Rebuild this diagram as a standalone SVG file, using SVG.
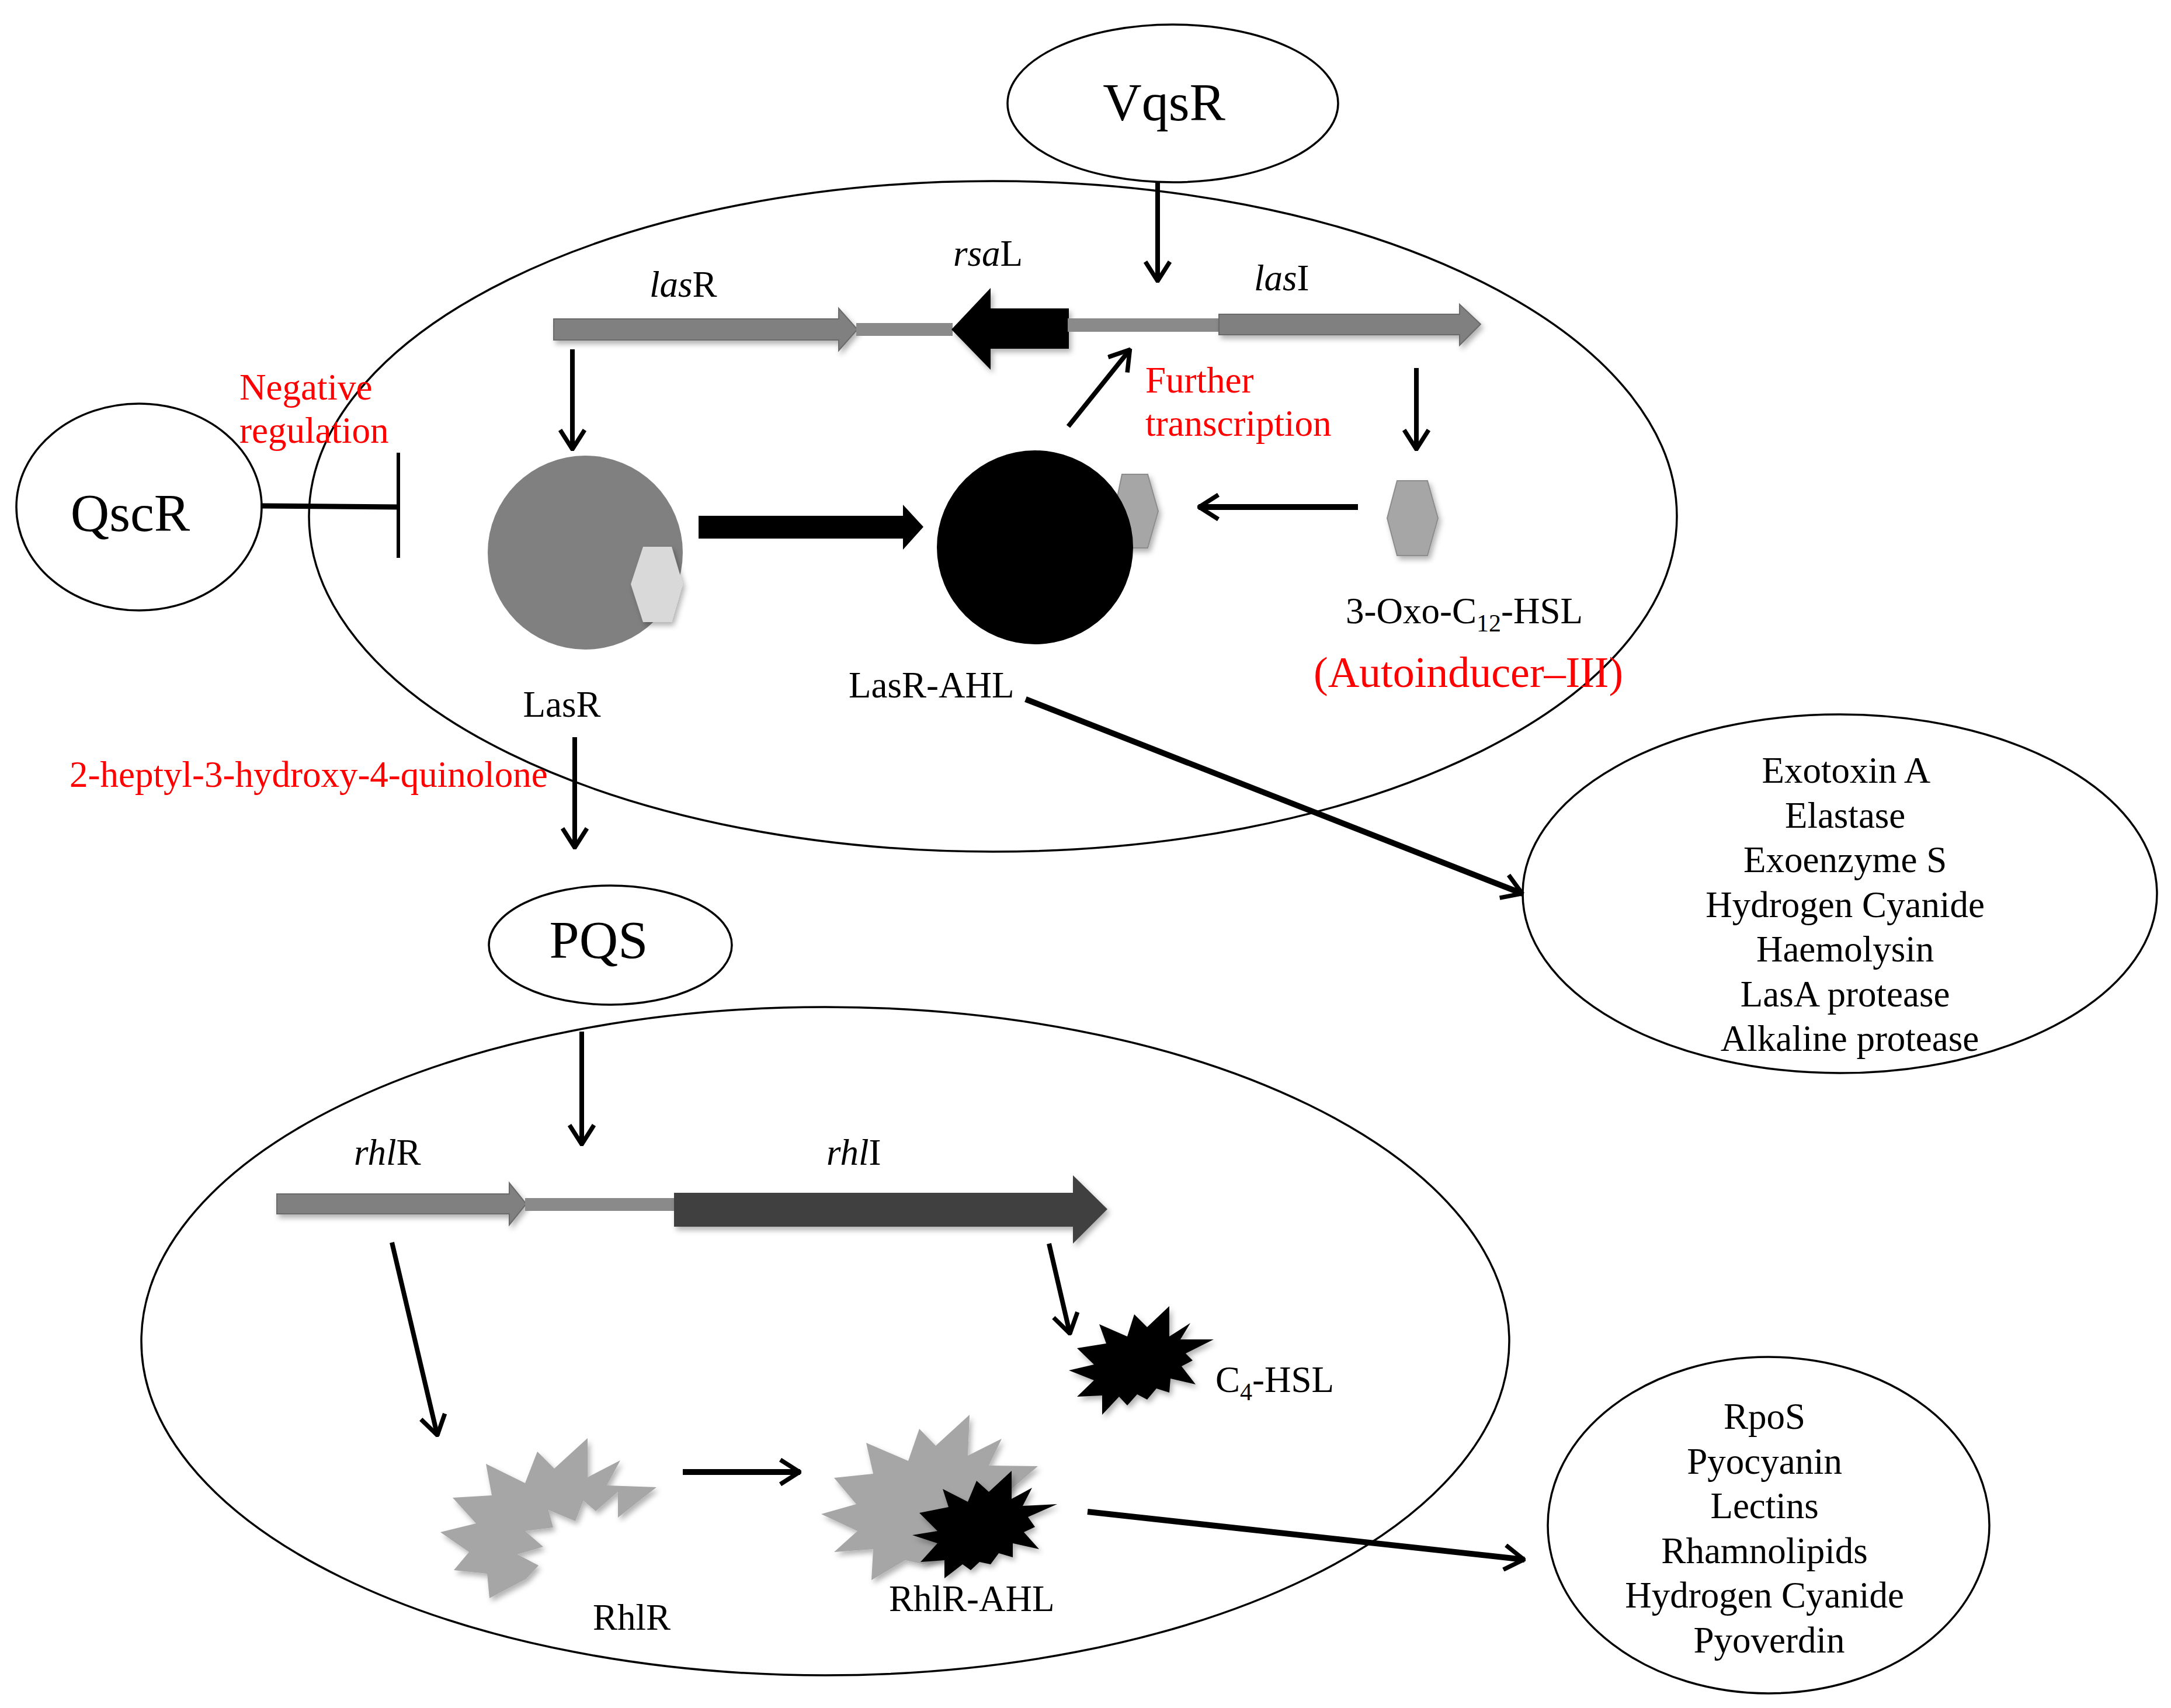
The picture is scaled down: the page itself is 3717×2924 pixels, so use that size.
<svg xmlns="http://www.w3.org/2000/svg" width="3717" height="2924" viewBox="0 0 3717 2924">
<style>
text{font-family:"Liberation Serif","Times New Roman",serif;fill:#000}
.t{font-size:63px}
.big{font-size:92px}
.red{fill:#ff0000}
.i{font-style:italic}
.oval{fill:none;stroke:#000;stroke-width:3.5}
.node{fill:#fff;stroke:#000;stroke-width:3.5}
.ln{stroke:#000;fill:none;stroke-width:8}
.thk{stroke:#000;fill:none;stroke-width:10}
.gene{fill:#808080;stroke:#6a6a6a;stroke-width:2}
.link{fill:#8a8a8a}
.hex{fill:#a6a6a6;stroke:#8c8c8c;stroke-width:2}
</style>
<defs>
<marker id="ah" viewBox="0 0 40 48" refX="38" refY="24" markerUnits="userSpaceOnUse" markerWidth="40" markerHeight="48" orient="auto">
<path d="M4,3 L37,24 L4,45" fill="none" stroke="#000" stroke-width="7.5"/>
</marker>
<filter id="sh" x="-20%" y="-20%" width="150%" height="150%">
<feDropShadow dx="4" dy="6" stdDeviation="5" flood-color="#000" flood-opacity="0.3"/>
</filter>
</defs>
<rect width="3717" height="2924" fill="#fff"/>

<g id="las-system">
<ellipse class="oval" cx="1700" cy="884" rx="1171" ry="574"/>
</g>
<g id="rhl-system">
<ellipse class="oval" cx="1413" cy="2296" rx="1171" ry="572"/>
</g>

<g id="VqsR">
<ellipse class="node" cx="2008" cy="177" rx="283" ry="135"/>
<text class="big" x="1993" y="206" text-anchor="middle">VqsR</text>
</g>

<g id="QscR">
<ellipse class="node" cx="238" cy="868" rx="210" ry="177"/>
<text class="big" x="223" y="909" text-anchor="middle">QscR</text>
</g>

<g id="negative-regulation">
<text class="t red" x="410" y="684">Negative</text>
<text class="t red" x="410" y="758">regulation</text>
</g>

<g id="lasR-gene">
<polygon class="gene" filter="url(#sh)" points="948,546 1436,546 1436,528 1468,564 1436,600 1436,582 948,582"/>
<text class="t" x="1112" y="508"><tspan class="i">las</tspan>R</text>
</g>
<g id="rsaL-gene">
<rect class="link" x="1466" y="553" width="165" height="22"/>
<polygon fill="#000" filter="url(#sh)" points="1629,564 1696,493 1696,528 1830,528 1830,597 1696,597 1696,633"/>
<text class="t" x="1632" y="455"><tspan class="i">rsa</tspan>L</text>
</g>
<g id="lasI-gene">
<rect class="link" x="1828" y="545" width="262" height="23"/>
<polygon class="gene" filter="url(#sh)" points="2087,538 2499,538 2499,521 2535,555 2499,591 2499,573 2087,573"/>
<text class="t" x="2147" y="497"><tspan class="i">las</tspan>I</text>
</g>

<g id="further-transcription">
<text class="t red" x="1961" y="672">Further</text>
<text class="t red" x="1961" y="746">transcription</text>
</g>

<g id="LasR">
<ellipse cx="1002" cy="946" rx="167" ry="166" fill="#808080"/>
<polygon fill="#d9d9d9" filter="url(#sh)" points="1080,1000 1101,936 1150,936 1169,1000 1150,1065 1101,1065"/>
<text class="t" x="962" y="1227" text-anchor="middle">LasR</text>
</g>

<g id="LasR-AHL">
<polygon class="hex" filter="url(#sh)" points="1908,875 1921,812 1965,812 1983,875 1965,938 1921,938"/>
<ellipse cx="1772" cy="937" rx="168" ry="166" fill="#000"/>
<text class="t" x="1453" y="1194">LasR-AHL</text>
</g>

<g id="oxo-C12-HSL">
<polygon class="hex" filter="url(#sh)" points="2375,887 2392,823 2444,823 2462,887 2444,951 2392,951"/>
<text class="t" x="2304" y="1067">3-Oxo-C<tspan font-size="42" dy="14">12</tspan><tspan dy="-14">-HSL</tspan></text>
<text class="red" font-size="74" x="2249" y="1176">(Autoinducer–III)</text>
</g>

<g id="HHQ-label">
<text class="t red" x="119" y="1347">2-heptyl-3-hydroxy-4-quinolone</text>
</g>

<g id="PQS">
<ellipse class="node" cx="1045" cy="1618" rx="208" ry="102"/>
<text class="big" x="1025" y="1640" text-anchor="middle">PQS</text>
</g>

<g id="las-virulence">
<ellipse class="node" cx="3150" cy="1530" rx="543" ry="307"/>
<text class="t" text-anchor="middle">
<tspan x="3167" y="1340">Exotoxin A</tspan>
<tspan x="3167" y="1417">Elastase</tspan>
<tspan x="3167" y="1493">Exoenzyme S</tspan>
<tspan x="3167" y="1570">Hydrogen Cyanide</tspan>
<tspan x="3167" y="1646">Haemolysin</tspan>
<tspan x="3167" y="1723">LasA protease</tspan>
<tspan x="3167" y="1799">Alkaline protease</tspan>
</text>
</g>

<g id="rhlR-gene">
<polygon class="gene" filter="url(#sh)" points="474,2044 872,2044 872,2025 901,2061 872,2097 872,2078 474,2078"/>
<rect class="link" x="899" y="2051" width="258" height="22"/>
<text class="t" x="606" y="1994"><tspan class="i">rhl</tspan>R</text>
</g>
<g id="rhlI-gene">
<polygon fill="#404040" filter="url(#sh)" points="1154,2042 1837,2042 1837,2012 1896,2070 1837,2129 1837,2100 1154,2100"/>
<text class="t" x="1415" y="1994"><tspan class="i">rhl</tspan>I</text>
</g>

<g id="C4-HSL">
<polygon fill="#000" filter="url(#sh)" points="1882,2267 1930,2288 1942,2250 1964,2272 2002,2236 2002,2288 2038,2265 2021,2293 2078,2293 2030,2317 2042,2329 2023,2339 2047,2370 2004,2360 2002,2384 1980,2377 1964,2396 1947,2387 1930,2406 1916,2391 1887,2422 1887,2389 1844,2391 1873,2363 1830,2346 1873,2336 1844,2308 1894,2300"/>
<text class="t" x="2081" y="2383">C<tspan font-size="42" dy="14">4</tspan><tspan dy="-14">-HSL</tspan></text>
</g>

<g id="RhlR">
<polygon fill="#a6a6a6" filter="url(#sh)" points="832,2506 899,2539 920,2485 949,2514 1006,2462 1006,2529 1062,2500 1039,2543 1124,2546 1058,2598 1058,2554 1020,2587 999,2569 985,2604 939,2585 947,2615 899,2621 930,2648 886,2661 922,2680 901,2703 838,2736 834,2694 777,2688 803,2657 754,2623 815,2608 775,2564 842,2560"/>
<text class="t" x="1015" y="2790">RhlR</text>
</g>

<g id="RhlR-AHL">
<polygon fill="#a6a6a6" filter="url(#sh)" points="1483,2470 1555,2501 1574,2446 1602,2475 1660,2422 1657,2492 1715,2463 1693,2509 1777,2510 1715,2564 1724,2630 1648,2654 1581,2678 1550,2671 1492,2705 1495,2652 1428,2657 1468,2621 1406,2592 1466,2575 1428,2530 1495,2523"/>
<polygon fill="#000" filter="url(#sh)" points="1614,2549 1657,2571 1672,2535 1693,2554 1732,2518 1732,2566 1767,2547 1751,2578 1810,2575 1760,2597 1772,2614 1753,2623 1779,2652 1734,2642 1734,2666 1710,2659 1696,2678 1677,2674 1662,2688 1648,2678 1617,2702 1617,2671 1576,2674 1605,2642 1562,2628 1605,2621 1574,2590 1624,2580"/>
<text class="t" x="1522" y="2758">RhlR-AHL</text>
</g>

<g id="rhl-virulence">
<ellipse class="node" cx="3028" cy="2611" rx="378" ry="288"/>
<text class="t" text-anchor="middle">
<tspan x="3029" y="2446">RpoS</tspan>
<tspan x="3029" y="2523">Pyocyanin</tspan>
<tspan x="3029" y="2599">Lectins</tspan>
<tspan x="3029" y="2676">Rhamnolipids</tspan>
<tspan x="3029" y="2752">Hydrogen Cyanide</tspan>
<tspan x="3029" y="2829">Pyoverdin</tspan>
</text>
</g>

<g id="connectors">
<line class="ln" x1="1982" y1="312" x2="1982" y2="482" marker-end="url(#ah)"/>
<line class="ln" x1="980" y1="598" x2="980" y2="770" marker-end="url(#ah)"/>
<line class="ln" x1="2425" y1="630" x2="2425" y2="770" marker-end="url(#ah)"/>
<line class="ln" x1="1829" y1="730" x2="1935" y2="598" marker-end="url(#ah)"/>
<line class="thk" x1="2325" y1="868" x2="2052" y2="868" marker-end="url(#ah)"/>
<polygon fill="#000" points="1196,883 1546,883 1546,864 1581,902 1546,941 1546,922 1196,922"/>
<line class="ln" x1="984" y1="1262" x2="984" y2="1452" marker-end="url(#ah)"/>
<line class="thk" x1="1756" y1="1197" x2="2607" y2="1530" marker-end="url(#ah)"/>
<line class="ln" x1="996" y1="1766" x2="996" y2="1960" marker-end="url(#ah)"/>
<line class="ln" x1="671" y1="2127" x2="749" y2="2458" marker-end="url(#ah)"/>
<line class="ln" x1="1796" y1="2129" x2="1832" y2="2284" marker-end="url(#ah)"/>
<line class="thk" x1="1169" y1="2520" x2="1370" y2="2520" marker-end="url(#ah)"/>
<line class="thk" x1="1862" y1="2588" x2="2610" y2="2670" marker-end="url(#ah)"/>
<line stroke="#000" stroke-width="9" x1="446" y1="866" x2="682" y2="868"/>
<line stroke="#000" stroke-width="6" x1="682" y1="775" x2="682" y2="955"/>
</g>
</svg>
